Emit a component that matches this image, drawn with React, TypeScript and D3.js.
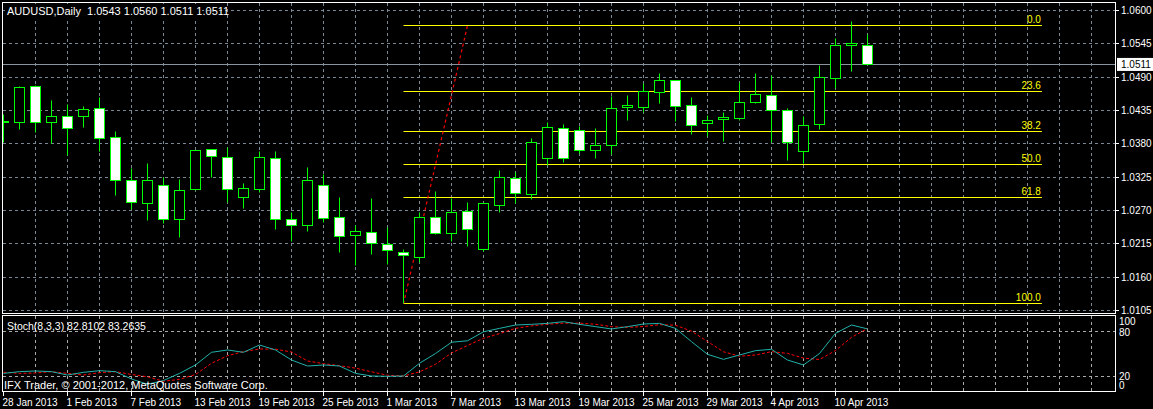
import React from 'react';
import * as d3 from 'd3';

const dates = [
  '2013-01-28','2013-01-29','2013-01-30','2013-01-31',
  '2013-02-01','2013-02-04','2013-02-05','2013-02-06','2013-02-07','2013-02-08',
  '2013-02-11','2013-02-12','2013-02-13','2013-02-14','2013-02-15',
  '2013-02-18','2013-02-19','2013-02-20','2013-02-21','2013-02-22',
  '2013-02-25','2013-02-26','2013-02-27','2013-02-28',
  '2013-03-01','2013-03-04','2013-03-05','2013-03-06','2013-03-07','2013-03-08',
  '2013-03-11','2013-03-12','2013-03-13','2013-03-14','2013-03-15',
  '2013-03-18','2013-03-19','2013-03-20','2013-03-21','2013-03-22',
  '2013-03-25','2013-03-26','2013-03-27','2013-03-28','2013-03-29',
  '2013-04-01','2013-04-02','2013-04-03','2013-04-04','2013-04-05',
  '2013-04-08','2013-04-09','2013-04-10','2013-04-11','2013-04-12',
];

const open = [
  1.0417, 1.0415, 1.0474, 1.0415, 1.0425, 1.0425, 1.0438, 1.0390, 1.0319, 1.0281,
  1.0312, 1.0255, 1.0304, 1.0370, 1.0357, 1.0291, 1.0304, 1.0355, 1.0255, 1.0245,
  1.0312, 1.0258, 1.0228, 1.0233, 1.0214, 1.0200, 1.0193, 1.0258, 1.0232, 1.0268,
  1.0205, 1.0279, 1.0322, 1.0296, 1.0356, 1.0405, 1.0402, 1.0369, 1.0377, 1.0440,
  1.0440, 1.0464, 1.0484, 1.0443, 1.0413, 1.0420, 1.0421, 1.0449, 1.0459, 1.0435,
  1.0367, 1.0412, 1.0487, 1.0542, 1.0543,
];
const high = [
  1.0428, 1.0475, 1.0476, 1.0452, 1.0445, 1.0442, 1.0456, 1.0400, 1.0339, 1.0348,
  1.0325, 1.0321, 1.0369, 1.0371, 1.0374, 1.0315, 1.0368, 1.0368, 1.0266, 1.0341,
  1.0329, 1.0292, 1.0246, 1.0290, 1.0242, 1.0205, 1.0266, 1.0301, 1.0290, 1.0283,
  1.0282, 1.0336, 1.0333, 1.0389, 1.0415, 1.0412, 1.0409, 1.0405, 1.0458, 1.0460,
  1.0480, 1.0496, 1.0485, 1.0456, 1.0426, 1.0432, 1.0482, 1.0496, 1.0492, 1.0438,
  1.0425, 1.0509, 1.0553, 1.0582, 1.0560,
];
const low = [
  1.0383, 1.0404, 1.0399, 1.0380, 1.0360, 1.0407, 1.0368, 1.0295, 1.0272, 1.0254,
  1.0249, 1.0226, 1.0303, 1.0325, 1.0283, 1.0274, 1.0300, 1.0238, 1.0219, 1.0236,
  1.0250, 1.0200, 1.0179, 1.0198, 1.0181, 1.0116, 1.0185, 1.0231, 1.0219, 1.0211,
  1.0203, 1.0266, 1.0281, 1.0288, 1.0344, 1.0349, 1.0364, 1.0355, 1.0362, 1.0419,
  1.0431, 1.0447, 1.0417, 1.0396, 1.0392, 1.0384, 1.0419, 1.0446, 1.0382, 1.0353,
  1.0348, 1.0404, 1.0471, 1.0499, 1.0511,
];
const close = [
  1.0415, 1.0473, 1.0416, 1.0425, 1.0405, 1.0436, 1.0388, 1.0319, 1.0283, 1.0319,
  1.0255, 1.0303, 1.0369, 1.0359, 1.0304, 1.0306, 1.0357, 1.0255, 1.0245, 1.0319,
  1.0256, 1.0227, 1.0235, 1.0215, 1.0204, 1.0195, 1.0258, 1.0232, 1.0266, 1.0238,
  1.0281, 1.0324, 1.0298, 1.0382, 1.0407, 1.0356, 1.0369, 1.0378, 1.0438, 1.0443,
  1.0466, 1.0484, 1.0442, 1.0411, 1.0418, 1.0423, 1.0448, 1.0461, 1.0435, 1.0383,
  1.0411, 1.0489, 1.0543, 1.0545, 1.0511,
];

const stochMain = [
  23.5, 25.8, 26.7, 25.8, 21.3, 24.9, 27.1, 25.8, 16, 9,
  14, 23.5, 34.7, 51.6, 54.7, 51.6, 61.3, 54.7, 41.3, 33.3,
  34.7, 33.3, 23.5, 20, 19.6, 20, 37, 50, 65, 67,
  79, 83.5, 88, 88.9, 90.2, 92.4, 88.9, 85.8, 82.7, 85.8,
  89.3, 90.2, 83.5, 65.8, 48.9, 42.2, 48, 53.8, 55.6, 41.3,
  34.7, 50, 76.9, 88, 82.81,
];
const stochSignal = [
  25, 23.5, 24, 25.8, 23.5, 21.3, 24.5, 25.8, 22, 19,
  13, 15.5, 22, 37, 47, 52.5, 56, 55.8, 52, 40,
  36.5, 33.8, 30.5, 25.6, 21, 20, 25.5, 35.6, 50.7, 60.7,
  70.3, 76.5, 83.5, 86.8, 89, 90.5, 90.5, 89, 85.8, 84.8,
  86, 88.4, 87.7, 79.8, 66, 52.3, 46.4, 48, 52.5, 50.2,
  43.9, 42, 53.9, 71.6, 83.26,
];

const priceTicks = [1.06, 1.0545, 1.049, 1.0435, 1.038, 1.0325, 1.027, 1.0215, 1.016, 1.0105];
const tickDates = [
  '2013-01-28','2013-02-01','2013-02-07','2013-02-13','2013-02-19','2013-02-25','2013-03-01',
  '2013-03-07','2013-03-13','2013-03-19','2013-03-25','2013-03-29','2013-04-04','2013-04-10',
];
const fibLevels = [0, 23.6, 38.2, 50, 61.8, 100];
const fibHigh = 1.05752;
const fibLow = 1.0116;
const fibStartBar = 25;
const fibTrendEndBar = 29;
const fibEndBar = 64.9;
const stochLevels = [100, 80, 20, 0];
const stochGridLevels = [80, 20];

const W = 1153;
const H = 409;
const FONT = '"Liberation Sans", Arial, sans-serif';
const GRID = '#7a8896';
const SGRID = '#a8a8a8';
const LIME = '#00ff00';

export default function App() {
  const x = d3.scaleLinear().domain([0, 1]).range([3.5, 19.5]);
  const yP = d3.scaleLinear().domain([1.0105, 1.06]).range([310.5, 10.5]);
  const yS = d3.scaleLinear().domain([0, 100]).range([391, 316]);
  const crisp = (v: number) => Math.round(v - 0.5) + 0.5;
  const parse = d3.timeParse('%Y-%m-%d');
  const fmt = d3.timeFormat('%-d %b %Y');

  const mainL = 2.5, mainR = 1115.5, mainT = 2.5, mainB = 313.5;
  const stT = 315.5, stB = 391.5;

  const vGrid: number[] = [];
  for (let k = 1; x(2 * k) < mainR - 1; k++) vGrid.push(x(2 * k));

  const line = d3.line<number>().x((_, i) => x(i)).y((d) => yS(d));
  const bid = close[close.length - 1];
  const fibPrice = (l: number) => fibHigh - (fibHigh - fibLow) * l / 100;

  return (
    <svg width={W} height={H} style={{ position: 'absolute', left: 0, top: 0, display: 'block' }}
      fontFamily={FONT}>
      <defs>
        <clipPath id="mainClip"><rect x={3} y={3} width={1112} height={310} /></clipPath>
        <clipPath id="stClip"><rect x={3} y={316} width={1112} height={75} /></clipPath>
      </defs>
      <rect x={0} y={0} width={W} height={H} fill="#000" />

      {/* main grid */}
      <g stroke={GRID} strokeWidth={1} strokeDasharray="3,3">
        {priceTicks.map((t) => (
          <line key={t} x1={3} x2={1115} y1={crisp(yP(t))} y2={crisp(yP(t))} />
        ))}
        {vGrid.map((g) => (
          <line key={g} x1={g} x2={g} y1={3} y2={313} />
        ))}
      </g>

      {/* bid line */}
      <line x1={3} x2={1115} y1={crisp(yP(bid))} y2={crisp(yP(bid))} stroke="#8a949e" strokeWidth={1} />

      {/* fibonacci */}
      <g clipPath="url(#mainClip)">
        {fibLevels.map((l) => {
          const yy = crisp(yP(fibPrice(l)));
          return (
            <g key={l}>
              <line x1={x(fibStartBar)} x2={x(fibEndBar)} y1={yy} y2={yy} stroke="#ffff00" strokeWidth={1} />
              <text x={x(fibEndBar) - 1} y={yy - 3} fill="#ffff00" fontSize={10} textAnchor="end">
                {l.toFixed(1)}
              </text>
            </g>
          );
        })}
        <line x1={x(fibStartBar)} y1={yP(fibLow)} x2={x(fibTrendEndBar)} y2={yP(fibHigh)}
          stroke="#ff0000" strokeWidth={1.2} strokeDasharray="3,3" />
      </g>

      {/* candles */}
      <g clipPath="url(#mainClip)">
        {dates.map((d, i) => {
          const cx = x(i);
          const o = open[i], c = close[i];
          const top = crisp(yP(Math.max(o, c)));
          const bot = crisp(yP(Math.min(o, c)));
          const bear = c < o;
          return (
            <g key={d}>
              <line x1={cx} x2={cx} y1={crisp(yP(high[i]))} y2={crisp(yP(low[i]))} stroke={LIME} strokeWidth={1} />
              <rect x={cx - 5} y={top} width={10} height={Math.max(1, bot - top)}
                fill={bear ? '#ffffff' : '#000000'} stroke={LIME} strokeWidth={1} />
            </g>
          );
        })}
      </g>

      {/* header */}
      <rect x={5} y={4} width={197} height={14} fill="#000" />
      <text x={7} y={15} fill="#ffffff" fontSize={11} style={{ whiteSpace: 'pre' }}>
        {'AUDUSD,Daily  1.0543 1.0560 1.0511 1.0511'}
      </text>

      {/* main frame */}
      <rect x={mainL} y={mainT} width={mainR - mainL} height={mainB - mainT} fill="none" stroke="#fff" strokeWidth={1} />

      {/* price axis */}
      <g fill="#fff" fontSize={10}>
        {priceTicks.map((t) => (
          <g key={t}>
            <line x1={1116} x2={1119} y1={crisp(yP(t))} y2={crisp(yP(t))} stroke="#fff" />
            <text x={1121} y={yP(t) + 3.5}>{t.toFixed(4)}</text>
          </g>
        ))}
      </g>
      <rect x={1117} y={yP(bid) - 6.5} width={36} height={13} fill="#fff" />
      <text x={1121} y={yP(bid) + 3.5} fill="#000" fontSize={10}>{bid.toFixed(4)}</text>

      {/* stochastic grid */}
      <g stroke={SGRID} strokeWidth={1} strokeDasharray="3,3">
        {stochGridLevels.map((l) => (
          <line key={l} x1={3} x2={1115} y1={crisp(yS(l))} y2={crisp(yS(l))} />
        ))}
        {vGrid.map((g) => (
          <line key={g} x1={g} x2={g} y1={316} y2={391} />
        ))}
      </g>
      <g clipPath="url(#stClip)">
        <path d={line(stochSignal) || ''} fill="none" stroke="#ff0000" strokeWidth={1} strokeDasharray="3,2" />
        <path d={line(stochMain) || ''} fill="none" stroke="#20b2aa" strokeWidth={1} />
      </g>
      <text x={7} y={329.5} fill="#fff" fontSize={10.5}>Stoch(8,3,3) 82.8102 83.2635</text>
      <text x={4} y={388.5} fill="#fff" fontSize={11}>IFX Trader, © 2001-2012, MetaQuotes Software Corp.</text>
      <rect x={mainL} y={stT} width={mainR - mainL} height={stB - stT} fill="none" stroke="#fff" strokeWidth={1} />

      <g fill="#fff" fontSize={10}>
        {stochLevels.map((l) => {
          const yy = l === 100 ? yS(l) + 5.5 : l === 0 ? yS(l) - 6 : l === 80 ? yS(l) + 1 : yS(l);
          return <text key={l} x={1119} y={yy + 3.5}>{l}</text>;
        })}
      </g>

      {/* date axis */}
      <g fill="#fff" fontSize={10}>
        {tickDates.map((d) => {
          const i = dates.indexOf(d);
          const tx = x(i);
          return (
            <g key={d}>
              <line x1={tx} x2={tx} y1={392} y2={396} stroke="#fff" />
              <text x={tx - 1} y={405.5}>{fmt(parse(d) as Date)}</text>
            </g>
          );
        })}
      </g>
    </svg>
  );
}
